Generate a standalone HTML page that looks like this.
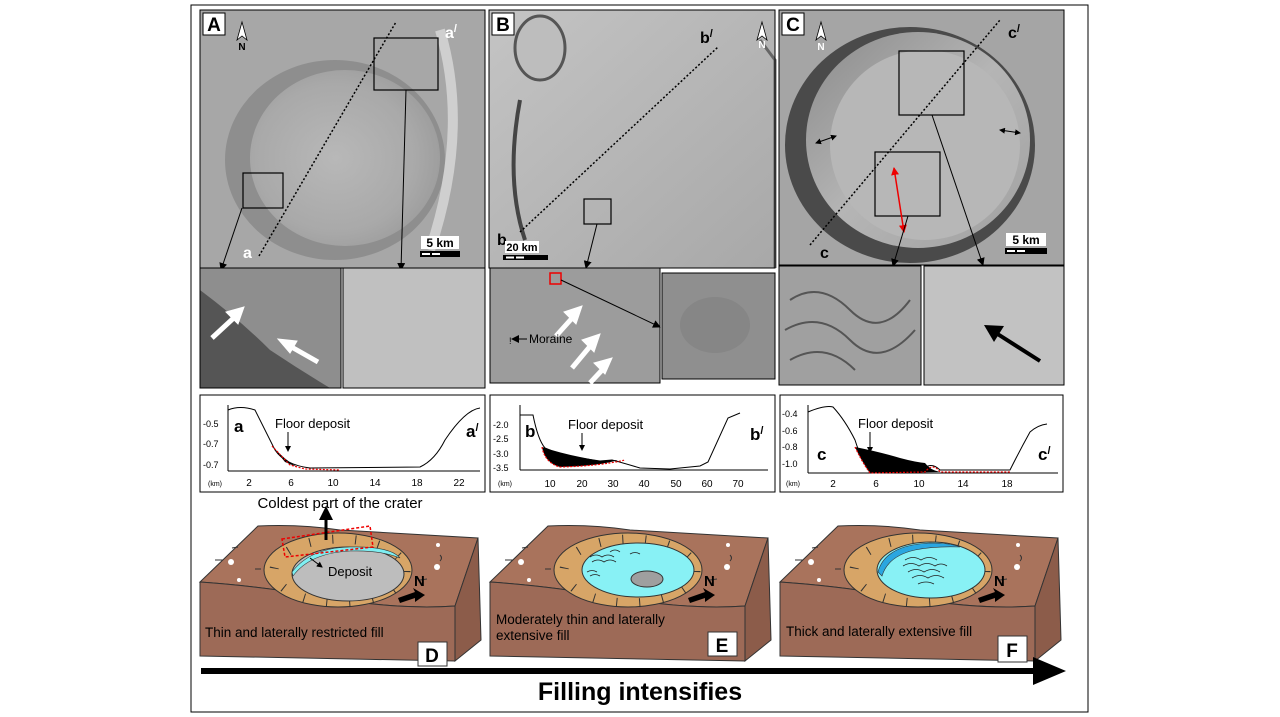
<!DOCTYPE html>
<html><head><meta charset="utf-8"><style>
html,body{margin:0;padding:0;background:#fff;}
svg{display:block;font-family:"Liberation Sans",Arial,sans-serif;}
</style></head><body>
<svg width="1280" height="717" viewBox="0 0 1280 717" xmlns="http://www.w3.org/2000/svg">
<defs>
<radialGradient id="gA" cx="0.45" cy="0.5" r="0.6"><stop offset="0" stop-color="#b8b8b8"/><stop offset="0.7" stop-color="#a9a9a9"/><stop offset="1" stop-color="#9a9a9a"/></radialGradient>
<linearGradient id="gB" x1="0" y1="0" x2="1" y2="1"><stop offset="0" stop-color="#c4c4c4"/><stop offset="1" stop-color="#a8a8a8"/></linearGradient>
<linearGradient id="gC" x1="0" y1="0" x2="1" y2="1"><stop offset="0" stop-color="#8a8a8a"/><stop offset="0.5" stop-color="#b5b5b5"/><stop offset="1" stop-color="#a0a0a0"/></linearGradient>
<marker id="ah" markerWidth="8" markerHeight="8" refX="7" refY="4" orient="auto" markerUnits="userSpaceOnUse"><path d="M0,0 L8,4 L0,8 Z" fill="#000"/></marker>
<marker id="ahr" markerWidth="8" markerHeight="8" refX="7" refY="4" orient="auto-start-reverse" markerUnits="userSpaceOnUse"><path d="M0,0 L8,4 L0,8 Z" fill="#e00"/></marker>
<marker id="ahb" markerWidth="6" markerHeight="6" refX="5" refY="3" orient="auto-start-reverse" markerUnits="userSpaceOnUse"><path d="M0,0 L6,3 L0,6 Z" fill="#000"/></marker>
</defs>
<rect x="191" y="5" width="897" height="707" fill="#fff" stroke="#000" stroke-width="1"/>

<!-- Panel A -->
<rect x="200" y="10" width="285" height="258" fill="#a7a7a7"/>
<ellipse cx="335" cy="160" rx="110" ry="100" fill="#7a7a7a" opacity="0.55"/>
<ellipse cx="345" cy="158" rx="95" ry="88" fill="url(#gA)"/>
<path d="M440,30 Q470,130 430,250" stroke="#cfcfcf" stroke-width="10" fill="none"/>
<rect x="200" y="10" width="285" height="258" fill="none" stroke="#000"/>
<rect x="203" y="13" width="22" height="22" fill="#fff" stroke="#000"/>
<text x="214" y="31" font-size="19" font-weight="bold" text-anchor="middle">A</text>
<text x="242" y="50" font-size="10" font-weight="bold" text-anchor="middle">N</text>
<path d="M242,22 L237,40 L242,36 L247,40Z" fill="#fff" stroke="#000" stroke-width="0.8"/>
<text x="445" y="38" font-size="16" font-weight="bold" fill="#fff">a<tspan font-size="11" dy="-6">/</tspan></text>
<text x="243" y="258" font-size="16" font-weight="bold" fill="#fff">a</text>
<line x1="259" y1="256" x2="396" y2="22" stroke="#000" stroke-width="1.5" stroke-dasharray="2,2"/>
<rect x="374" y="38" width="64" height="52" fill="none" stroke="#000" stroke-width="1.2"/>
<rect x="243" y="173" width="40" height="35" fill="none" stroke="#000" stroke-width="1.2"/>
<line x1="242" y1="208" x2="221" y2="270" stroke="#000" marker-end="url(#ah)"/>
<line x1="406" y1="90" x2="401" y2="270" stroke="#000" marker-end="url(#ah)"/>
<rect x="421" y="236" width="38" height="13" fill="#fff"/>
<text x="440" y="247" font-size="12" font-weight="bold" text-anchor="middle">5 km</text>
<rect x="420" y="251" width="40" height="6" fill="#000"/><rect x="422" y="253" width="8" height="2" fill="#fff"/><rect x="432" y="253" width="8" height="2" fill="#fff"/>
<!-- A insets -->
<rect x="200" y="268" width="141" height="120" fill="#8e8e8e"/>
<path d="M200,290 Q240,320 270,350 Q300,370 330,388 L200,388Z" fill="#555"/>
<rect x="343" y="268" width="142" height="120" fill="#c0c0c0"/>
<rect x="200" y="268" width="141" height="120" fill="none" stroke="#000"/>
<rect x="343" y="268" width="142" height="120" fill="none" stroke="#000"/>
<g stroke="#fff" stroke-width="5" fill="#fff">
<line x1="212" y1="338" x2="238" y2="314"/><path d="M244,307 L226,312 L238,324Z" stroke-width="1"/>
<line x1="318" y1="362" x2="288" y2="345"/><path d="M278,339 L290,353 L297,341Z" stroke-width="1"/>
</g>

<!-- Panel B -->
<rect x="489" y="10" width="286" height="258" fill="url(#gB)"/>
<ellipse cx="540" cy="48" rx="25" ry="32" fill="#bdbdbd" stroke="#555" stroke-width="3"/>
<path d="M520,100 Q505,180 525,240" stroke="#444" stroke-width="4" fill="none"/>
<path d="M760,40 L775,60 L775,268" stroke="#666" stroke-width="3" fill="none"/>
<rect x="489" y="10" width="286" height="258" fill="none" stroke="#000"/>
<rect x="492" y="13" width="22" height="22" fill="#fff" stroke="#000"/>
<text x="503" y="31" font-size="19" font-weight="bold" text-anchor="middle">B</text>
<text x="762" y="48" font-size="10" font-weight="bold" fill="#fff" text-anchor="middle">N</text>
<path d="M762,22 L757,40 L762,36 L767,40Z" fill="#fff" stroke="#000" stroke-width="0.8"/>
<text x="700" y="43" font-size="16" font-weight="bold">b<tspan font-size="11" dy="-6">/</tspan></text>
<text x="497" y="245" font-size="16" font-weight="bold">b</text>
<line x1="520" y1="232" x2="718" y2="47" stroke="#000" stroke-width="1.5" stroke-dasharray="2,2"/>
<rect x="584" y="199" width="27" height="25" fill="none" stroke="#000" stroke-width="1.2"/>
<line x1="597" y1="224" x2="586" y2="268" stroke="#000" marker-end="url(#ah)"/>
<rect x="505" y="241" width="34" height="12" fill="#fff"/>
<text x="522" y="251" font-size="11" font-weight="bold" text-anchor="middle">20 km</text>
<rect x="503" y="255" width="45" height="5" fill="#000"/><rect x="506" y="256.5" width="8" height="2" fill="#fff"/><rect x="516" y="256.5" width="8" height="2" fill="#fff"/>
<!-- B insets -->
<rect x="490" y="268" width="170" height="115" fill="#9c9c9c"/>
<rect x="662" y="273" width="113" height="106" fill="#8f8f8f"/>
<ellipse cx="715" cy="325" rx="35" ry="28" fill="#808080" opacity="0.6"/>
<rect x="490" y="268" width="170" height="115" fill="none" stroke="#000"/>
<rect x="662" y="273" width="113" height="106" fill="none" stroke="#000"/>
<rect x="550" y="273" width="11" height="11" fill="none" stroke="#e00" stroke-width="1.5"/>
<line x1="561" y1="280" x2="660" y2="327" stroke="#000" marker-end="url(#ah)"/>
<g stroke="#fff" stroke-width="5" fill="#fff">
<line x1="556" y1="336" x2="574" y2="316"/><path d="M582,306 L564,312 L576,324Z" stroke-width="1"/>
<line x1="572" y1="368" x2="592" y2="344"/><path d="M600,334 L582,340 L594,352Z" stroke-width="1"/>
<line x1="590" y1="383" x2="604" y2="368"/><path d="M612,358 L594,363 L605,374Z" stroke-width="1"/>
</g>
<text x="509" y="344" font-size="9">!</text>
<line x1="527" y1="339" x2="512" y2="339" stroke="#000" marker-end="url(#ah)"/>
<text x="529" y="343" font-size="12">Moraine</text>

<!-- Panel C -->
<rect x="779" y="10" width="285" height="255" fill="#a5a5a5"/>
<ellipse cx="910" cy="145" rx="125" ry="118" fill="#4a4a4a"/>
<ellipse cx="918" cy="140" rx="112" ry="108" fill="url(#gC)"/>
<ellipse cx="925" cy="145" rx="95" ry="95" fill="#b7b7b7"/>
<rect x="779" y="10" width="285" height="255" fill="none" stroke="#000"/>
<rect x="782" y="13" width="22" height="22" fill="#fff" stroke="#000"/>
<text x="793" y="31" font-size="19" font-weight="bold" text-anchor="middle">C</text>
<text x="821" y="50" font-size="10" font-weight="bold" fill="#fff" text-anchor="middle">N</text>
<path d="M821,22 L816,40 L821,36 L826,40Z" fill="#fff" stroke="#000" stroke-width="0.8"/>
<text x="1008" y="38" font-size="16" font-weight="bold">c<tspan font-size="11" dy="-6">/</tspan></text>
<text x="820" y="258" font-size="16" font-weight="bold">c</text>
<line x1="810" y1="245" x2="1000" y2="20" stroke="#000" stroke-width="1.5" stroke-dasharray="2,2"/>
<rect x="899" y="51" width="65" height="64" fill="none" stroke="#000" stroke-width="1.2"/>
<rect x="875" y="152" width="65" height="64" fill="none" stroke="#000" stroke-width="1.2"/>
<line x1="894" y1="168" x2="904" y2="232" stroke="#e00" stroke-width="1.5" marker-start="url(#ahr)" marker-end="url(#ahr)"/>
<line x1="816" y1="143" x2="836" y2="136" stroke="#000" marker-start="url(#ahb)" marker-end="url(#ahb)"/>
<line x1="1000" y1="130" x2="1020" y2="133" stroke="#000" marker-start="url(#ahb)" marker-end="url(#ahb)"/>
<line x1="908" y1="216" x2="893" y2="266" stroke="#000" marker-end="url(#ah)"/>
<line x1="932" y1="115" x2="983" y2="265" stroke="#000" marker-end="url(#ah)"/>
<rect x="1006" y="233" width="40" height="13" fill="#fff"/>
<text x="1026" y="244" font-size="12" font-weight="bold" text-anchor="middle">5 km</text>
<rect x="1005" y="248" width="42" height="6" fill="#000"/><rect x="1007" y="250" width="8" height="2" fill="#fff"/><rect x="1017" y="250" width="8" height="2" fill="#fff"/>
<!-- C insets -->
<rect x="779" y="266" width="142" height="119" fill="#a0a0a0"/>
<g stroke="#555" fill="none" stroke-width="2"><path d="M790,300 Q820,280 850,310 T910,300"/><path d="M785,330 Q820,310 850,340 T915,330"/><path d="M790,360 Q825,340 855,370"/></g>
<rect x="924" y="266" width="140" height="119" fill="#c2c2c2"/>
<rect x="779" y="266" width="142" height="119" fill="none" stroke="#000"/>
<rect x="924" y="266" width="140" height="119" fill="none" stroke="#000"/>
<line x1="1040" y1="361" x2="996" y2="333" stroke="#000" stroke-width="4"/>
<path d="M984,325 L1004,326 L994,342Z" fill="#000"/>

<!-- Profiles -->
<g font-size="9">
<rect x="200" y="395" width="285" height="97" fill="#fff" stroke="#000"/>
<line x1="228" y1="405" x2="228" y2="471" stroke="#000"/><line x1="228" y1="471" x2="480" y2="471" stroke="#000"/>
<text x="203" y="427">-0.5</text><text x="203" y="447">-0.7</text><text x="203" y="468">-0.7</text>
<text x="208" y="486" font-size="7">(km)</text>
<g font-size="10" text-anchor="middle"><text x="249" y="486">2</text><text x="291" y="486">6</text><text x="333" y="486">10</text><text x="375" y="486">14</text><text x="417" y="486">18</text><text x="459" y="486">22</text></g>
<path d="M228,410 Q240,405 255,410 Q265,430 275,450 Q285,465 310,468 L420,467 Q435,460 445,440 Q465,410 480,408" stroke="#000" fill="none"/>
<path d="M272,446 L285,462 L297,467 Q285,460 272,446Z" fill="#000"/>
<path d="M272,446 L290,465 L305,469 L340,470" stroke="#e00" stroke-dasharray="2,1.5" fill="none" stroke-width="1.2"/>
<text x="234" y="432" font-size="17" font-weight="bold">a</text>
<text x="466" y="437" font-size="17" font-weight="bold">a<tspan font-size="11" dy="-6">/</tspan></text>
<text x="275" y="428" font-size="13">Floor deposit</text>
<line x1="288" y1="432" x2="288" y2="451" stroke="#000" marker-end="url(#ahb)"/>

<rect x="490" y="395" width="285" height="97" fill="#fff" stroke="#000"/>
<line x1="520" y1="405" x2="520" y2="470" stroke="#000"/><line x1="520" y1="470" x2="768" y2="470" stroke="#000"/>
<text x="493" y="428">-2.0</text><text x="493" y="442">-2.5</text><text x="493" y="457">-3.0</text><text x="493" y="471">-3.5</text>
<text x="498" y="486" font-size="7">(km)</text>
<g font-size="10" text-anchor="middle"><text x="550" y="487">10</text><text x="582" y="487">20</text><text x="613" y="487">30</text><text x="644" y="487">40</text><text x="676" y="487">50</text><text x="707" y="487">60</text><text x="738" y="487">70</text></g>
<path d="M520,415 L533,415 Q538,440 545,448 Q560,455 580,458 L600,461 L612,460 Q620,462 640,468 L670,469 L700,466 L708,462 Q718,440 728,418 L740,413" stroke="#000" fill="none"/>
<path d="M542,447 Q560,453 580,457 L600,461 L618,460 Q600,466 560,467 Q545,463 542,447Z" fill="#000"/>
<path d="M542,447 Q545,463 560,467 Q600,466 625,460" stroke="#e00" stroke-dasharray="2,1.5" fill="none" stroke-width="1.2"/>
<text x="525" y="437" font-size="17" font-weight="bold">b</text>
<text x="750" y="440" font-size="17" font-weight="bold">b<tspan font-size="11" dy="-6">/</tspan></text>
<text x="568" y="429" font-size="13">Floor deposit</text>
<line x1="582" y1="433" x2="582" y2="450" stroke="#000" marker-end="url(#ahb)"/>

<rect x="780" y="395" width="283" height="97" fill="#fff" stroke="#000"/>
<line x1="808" y1="405" x2="808" y2="473" stroke="#000"/><line x1="808" y1="473" x2="1058" y2="473" stroke="#000"/>
<text x="782" y="417">-0.4</text><text x="782" y="434">-0.6</text><text x="782" y="450">-0.8</text><text x="782" y="467">-1.0</text>
<text x="786" y="486" font-size="7">(km)</text>
<g font-size="10" text-anchor="middle"><text x="833" y="487">2</text><text x="876" y="487">6</text><text x="919" y="487">10</text><text x="963" y="487">14</text><text x="1007" y="487">18</text></g>
<path d="M808,412 Q825,405 833,407 Q845,420 855,440 Q862,462 870,472 L920,472 Q930,460 940,470 L1010,470 Q1020,450 1030,432 Q1038,425 1047,424" stroke="#000" fill="none"/>
<path d="M855,447 Q880,452 900,458 Q915,462 925,463 Q930,470 940,472 L870,473 Q862,462 855,447Z" fill="#000"/>
<path d="M855,447 Q862,462 870,473 L925,472 Q933,462 940,472 L1010,472" stroke="#e00" stroke-dasharray="2,1.5" fill="none" stroke-width="1.2"/>
<text x="817" y="460" font-size="17" font-weight="bold">c</text>
<text x="1038" y="460" font-size="17" font-weight="bold">c<tspan font-size="11" dy="-6">/</tspan></text>
<text x="858" y="428" font-size="13">Floor deposit</text>
<line x1="870" y1="432" x2="870" y2="452" stroke="#000" marker-end="url(#ahb)"/>
</g>

<!-- Blocks -->
<g id="blk">
<path d="M200,582 L258,526 Q300,524 340,530 L478,538 L455,606 Q400,610 330,598 Q260,586 200,582Z" fill="#a9735c" stroke="#333" stroke-width="1"/>
<path d="M200,582 Q260,586 330,598 Q400,610 455,606 L455,661 L200,656Z" fill="#9d6a57" stroke="#333" stroke-width="1"/>
<path d="M455,606 L478,538 L481,640 L455,661Z" fill="#8c5c4a" stroke="#333" stroke-width="1"/>
<ellipse cx="338" cy="570" rx="74" ry="37" fill="#d7a567" stroke="#333"/>
<ellipse cx="340" cy="571" rx="66" ry="32" fill="none" stroke="#333" stroke-width="9" stroke-dasharray="1,22"/>
<circle cx="231" cy="562" r="3" fill="#fff"/><circle cx="242" cy="535" r="2.5" fill="#fff"/><circle cx="437" cy="567" r="3" fill="#fff"/><circle cx="438" cy="545" r="2" fill="#fff"/><circle cx="239" cy="580" r="2" fill="#fff"/>
<g stroke="#333" fill="none"><path d="M215,560 l8,0"/><path d="M232,548 l6,-1"/><path d="M255,569 l6,0"/><path d="M420,580 l7,-1"/><path d="M440,555 q3,3 0,6"/></g>
<path d="M398,598 L415,592 L413,588 L425,595 L415,602 L415,598 L400,603Z" fill="#000"/>
<text x="414" y="586" font-size="15" font-weight="bold">N</text>
</g>
<use href="#blk" x="290"/>
<use href="#blk" x="580"/>
<!-- D crater -->
<ellipse cx="348" cy="574" rx="56" ry="27" fill="#bdbdbd" stroke="#333"/>
<path d="M292,572 Q310,548 350,547 Q390,546 400,558 Q380,550 350,551 Q310,553 293,576Z" fill="#7feff2" stroke="#333" stroke-width="0.6"/>
<path d="M282,539 L370,526 L373,547 L285,557Z" fill="none" stroke="#e00" stroke-width="1.5" stroke-dasharray="3,2"/>
<line x1="326" y1="540" x2="326" y2="518" stroke="#000" stroke-width="3"/><path d="M319,520 L326,506 L333,520Z" fill="#000"/>
<text x="340" y="508" font-size="15" text-anchor="middle">Coldest part of the crater</text>
<line x1="310" y1="558" x2="322" y2="567" stroke="#000" marker-end="url(#ahb)"/>
<text x="328" y="576" font-size="13">Deposit</text>
<text x="205" y="637" font-size="13.5">Thin and laterally restricted fill</text>
<rect x="418" y="642" width="29" height="24" fill="#fff" stroke="#333"/><text x="432" y="662" font-size="19" font-weight="bold" text-anchor="middle">D</text>
<!-- E crater -->
<ellipse cx="638" cy="570" rx="56" ry="27" fill="#88f1f5" stroke="#333"/>
<ellipse cx="647" cy="579" rx="16" ry="8" fill="#9f9f9f" stroke="#333"/>
<g stroke="#222" fill="none" stroke-width="0.8"><path d="M590,557 q6,-4 12,0 q6,-4 12,0"/><path d="M592,562 q6,-4 12,0 q6,-4 12,0"/><path d="M610,552 q5,-4 10,0"/><path d="M630,554 q5,-3 10,0"/><path d="M587,572 q5,-3 10,0"/><path d="M590,576 q5,-3 10,0"/></g>
<text x="496" y="624" font-size="13.5">Moderately thin and laterally</text>
<text x="496" y="640" font-size="13.5">extensive fill</text>
<rect x="708" y="632" width="29" height="24" fill="#fff" stroke="#333"/><text x="722" y="652" font-size="19" font-weight="bold" text-anchor="middle">E</text>
<!-- F crater -->
<ellipse cx="931" cy="570" rx="54" ry="28" fill="#88f1f5" stroke="#333"/>
<path d="M878,572 Q885,545 930,543 Q950,543 960,547 Q935,546 915,550 Q888,556 882,576Z" fill="#2aa6e0" stroke="#333" stroke-width="0.6"/>
<g stroke="#222" fill="none" stroke-width="0.8"><path d="M905,560 q8,-5 16,0 q8,-5 16,0"/><path d="M903,566 q8,-5 16,0 q8,-5 16,0 q6,-4 12,0"/><path d="M908,572 q8,-5 16,0 q8,-5 16,0"/><path d="M912,578 q8,-5 16,0 q8,-5 16,0"/><path d="M918,584 q8,-4 16,0"/></g>
<text x="786" y="636" font-size="13.5">Thick and laterally extensive fill</text>
<rect x="998" y="636" width="29" height="26" fill="#fff" stroke="#333"/><text x="1012" y="657" font-size="19" font-weight="bold" text-anchor="middle">F</text>

<!-- Bottom arrow -->
<rect x="201" y="668" width="834" height="6" fill="#000"/>
<path d="M1033,657 L1066,671 L1033,685Z" fill="#000"/>
<text x="640" y="700" font-size="25" font-weight="bold" text-anchor="middle">Filling intensifies</text>
</svg>
</body></html>
